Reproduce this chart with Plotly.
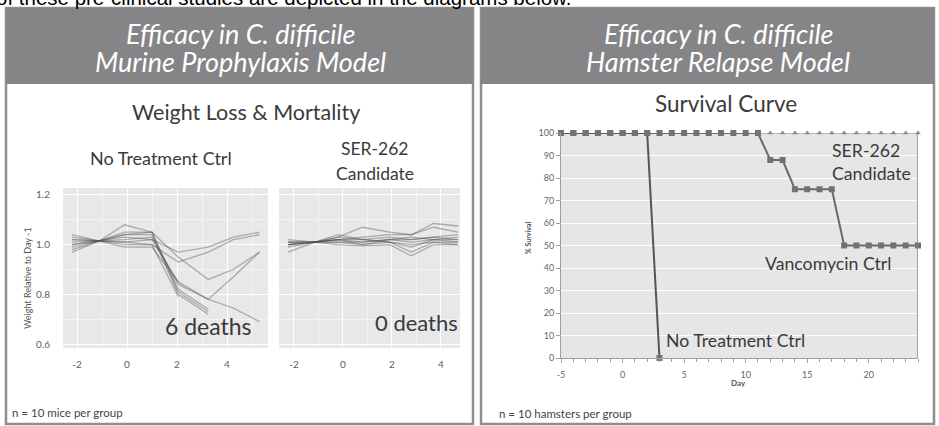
import plotly.graph_objects as go

W, H = 939, 426
def X(px): return px / W
def Y(py): return 1 - py / H

# ---------------- data ----------------
intro_text = "of these pre-clinical studies are depicted in the diagrams below."

# Weight loss (relative to day -1), 10 mice per group
ctrl_days = [-2.2, -1.1, -0.1, 1.0, 2.05, 3.25, 4.25, 5.3]
ctrl_weights = [
    [1.00, 1.015, 1.03, 1.02, 0.97, 0.99, 1.03, 1.05],
    [1.03, 1.015, 1.01, 1.00, 0.93, 0.97, 1.02, 1.04],
    [1.02, 1.015, 1.04, 1.05, 0.95, 0.86, 0.90, 0.97],
    [0.98, 1.015, 1.02, 1.03, 0.84, 0.78, 0.87, 0.97],
    [1.01, 1.015, 1.01, 1.02, 0.85, 0.78, 0.745, 0.69],
    [0.99, 1.015, 1.05, 1.05, 0.81, 0.73, None, None],
    [1.00, 1.015, 1.04, 1.04, 0.80, 0.72, None, None],
    [1.02, 1.015, 1.08, 1.05, 0.82, 0.74, None, None],
    [0.97, 1.015, 1.00, 1.00, 0.79, None, None, None],
    [1.04, 1.015, 0.99, 0.99, 0.85, None, None, None],
]
ser_days = [-2.24, -1.14, -0.2, 0.8, 1.9, 2.8, 3.7, 4.7]
ser_weights = [
    [1.00, 1.01, 1.03, 1.07, 1.05, 1.04, 1.085, 1.075],
    [1.01, 1.01, 1.02, 1.03, 1.04, 1.04, 1.07, 1.05],
    [0.97, 1.01, 1.04, 1.02, 1.03, 1.02, 1.03, 1.04],
    [1.00, 1.01, 1.02, 1.01, 1.02, 1.03, 1.02, 1.03],
    [1.01, 1.01, 1.01, 1.00, 1.02, 1.02, 1.03, 1.02],
    [1.00, 1.01, 1.02, 1.00, 1.01, 0.99, 1.02, 1.01],
    [1.01, 1.01, 1.00, 0.995, 1.00, 0.955, 1.00, 1.00],
    [1.00, 1.01, 1.03, 1.02, 1.01, 0.97, 1.01, 1.01],
    [1.02, 1.01, 1.01, 1.01, 1.02, 1.01, 1.02, 1.02],
    [0.99, 1.01, 1.02, 1.02, 1.01, 1.00, 1.01, 1.00],
]
weight_xticks = [-2, 0, 2, 4]
weight_xtick_text = ["-2", "0", "2", "4"]
weight_yticks = [0.6, 0.8, 1.0, 1.2]
weight_ytick_text = ["0.6", "0.8", "1.0", "1.2"]

# Survival (hamster relapse model)
surv_days = list(range(-5, 25))
ser_surv = [100] * 30
vanco_surv = [100] * 17 + [88, 88] + [75, 75, 75, 75] + [50] * 7
nt_days = list(range(-5, 4))
nt_surv = [100] * 8 + [0]
surv_xticks = [-5, 0, 5, 10, 15, 20]
surv_xtick_text = ["-5", "0", "5", "10", "15", "20"]
surv_yticks = list(range(0, 101, 10))

# ---------------- figure ----------------
fig = go.Figure()
line_col = "rgba(80,80,80,0.42)"
for w in ctrl_weights:
    fig.add_trace(go.Scatter(x=ctrl_days, y=w, mode="lines", line=dict(color=line_col, width=1.3),
                             xaxis="x", yaxis="y", showlegend=False, connectgaps=False))
for w in ser_weights:
    fig.add_trace(go.Scatter(x=ser_days, y=w, mode="lines", line=dict(color=line_col, width=1.3),
                             xaxis="x2", yaxis="y2", showlegend=False))

fig.add_trace(go.Scatter(x=surv_days, y=ser_surv, mode="lines+markers", name="SER-262",
                         line=dict(color="#8c8c8c", width=1),
                         marker=dict(symbol="triangle-up", size=5, color="#8c8c8c"),
                         xaxis="x3", yaxis="y3", showlegend=False, cliponaxis=False))
fig.add_trace(go.Scatter(x=surv_days, y=vanco_surv, mode="lines+markers", name="Vancomycin Ctrl",
                         line=dict(color="#6a6a6a", width=2),
                         marker=dict(symbol="square", size=6, color="#727272"),
                         xaxis="x3", yaxis="y3", showlegend=False, cliponaxis=False))
fig.add_trace(go.Scatter(x=nt_days, y=nt_surv, mode="lines+markers", name="No Treatment Ctrl",
                         line=dict(color="#555555", width=2),
                         marker=dict(symbol="square", size=6, color="#727272"),
                         xaxis="x3", yaxis="y3", showlegend=False, cliponaxis=False))

# intro sentence (cut off by the top of the page, as in the source)
fig.add_trace(go.Scatter(x=[-4], y=[-0.4], mode="text", text=[intro_text], textposition="middle right",
                         textfont=dict(family="Liberation Sans, Arial", size=20.5, color="black"),
                         xaxis="x4", yaxis="y4", showlegend=False, hoverinfo="skip", cliponaxis=True))

tickfont = dict(family="Lato", size=10, color="#606060")
grid_w = dict(showgrid=True, gridcolor="white", gridwidth=1.2, zeroline=False, showline=False,
              automargin=False)
minor_x = dict(showgrid=True, gridcolor="#f3f3f3", gridwidth=0.8)
surv_tickfont = dict(family="Lato", size=9, color="#666")

layout = dict(
    template="none",
    width=W, height=H, margin=dict(l=0, r=0, t=0, b=0, autoexpand=False),
    paper_bgcolor="white", plot_bgcolor="rgba(0,0,0,0)", showlegend=False,
    xaxis=dict(domain=[X(63), X(268)], range=[-2.56, 5.64], tickvals=weight_xticks,
               ticktext=weight_xtick_text, tickfont=tickfont, anchor="y", ticks="", ticklabelstandoff=9,
               minor=dict(tickvals=[-1, 1, 3, 5], **minor_x), **grid_w),
    yaxis=dict(domain=[Y(348), Y(188)], range=[0.584, 1.228], tickvals=weight_yticks,
               ticktext=weight_ytick_text, tickfont=tickfont, anchor="x", ticks="",
               ticklabelstandoff=12, minor=dict(tickvals=[0.7, 0.9, 1.1], **minor_x), **grid_w),
    xaxis2=dict(domain=[X(279), X(460)], range=[-2.61, 4.78], tickvals=weight_xticks,
                ticktext=weight_xtick_text, tickfont=tickfont, anchor="y2", ticks="", ticklabelstandoff=9,
                minor=dict(tickvals=[-1, 1, 3], **minor_x), **grid_w),
    yaxis2=dict(domain=[Y(348), Y(188)], range=[0.584, 1.228], tickvals=weight_yticks,
                showticklabels=False, anchor="x2", ticks="",
                minor=dict(tickvals=[0.7, 0.9, 1.1], **minor_x), **grid_w),
    xaxis3=dict(domain=[X(561), X(918)], range=[-5, 24], tickvals=surv_xticks, ticktext=surv_xtick_text,
                anchor="y3", tickfont=surv_tickfont, showgrid=False,
                zeroline=False, automargin=False,
                showline=True, linecolor="#a0a0a0", linewidth=1, ticks="outside", ticklen=4,
                tickcolor="#a0a0a0", ticklabelstandoff=4,
                minor=dict(dtick=1, ticks="outside", ticklen=3, tickcolor="#a0a0a0")),
    yaxis3=dict(domain=[Y(358), Y(133)], range=[0, 100], tickvals=surv_yticks, anchor="x3",
                tickfont=surv_tickfont, showgrid=True, gridcolor="white",
                gridwidth=1.2, zeroline=False, showline=True, linecolor="#a0a0a0", linewidth=1,
                ticks="outside", ticklen=4, tickcolor="#a0a0a0", automargin=False),
    xaxis4=dict(domain=[0, 1], range=[0, W], visible=False, anchor="y4", automargin=False),
    yaxis4=dict(domain=[Y(9), 1], range=[9, 0], visible=False, anchor="x4", automargin=False),
)
fig.update_layout(**layout)

shapes = []
header_col = "#858587"
border_col = "#8e8e8e"
for (x0, x1) in [(6, 473), (481, 934)]:
    shapes.append(dict(type="rect", xref="paper", yref="paper", x0=X(x0), x1=X(x1), y0=Y(424), y1=Y(8),
                       line=dict(color=border_col, width=2.5), fillcolor="white", layer="below"))
    shapes.append(dict(type="rect", xref="paper", yref="paper", x0=X(x0), x1=X(x1), y0=Y(84), y1=Y(8),
                       line=dict(width=0), fillcolor=header_col, layer="below"))
# plot-area backgrounds (below gridlines)
for (xr, yr, col) in [("x", "y", "#e8e8e8"), ("x2", "y2", "#e8e8e8"), ("x3", "y3", "#e6e6e6")]:
    shapes.append(dict(type="rect", xref=xr + " domain", yref=yr + " domain", x0=0, x1=1, y0=0, y1=1,
                       line=dict(width=0), fillcolor=col, layer="below"))
# right border of survival plot area
shapes.append(dict(type="line", xref="x3", yref="y3", x0=24, x1=24, y0=0, y1=100,
                   line=dict(color="#8a8a8a", width=1.5)))
fig.update_layout(shapes=shapes)

ann = []
def txt(text, px, py, size, color="#3a3a3a", family="Lato", xanchor="center", yanchor="middle", **kw):
    ann.append(dict(text=text, x=X(px), y=Y(py), xref="paper", yref="paper", showarrow=False,
                    xanchor=xanchor, yanchor=yanchor, font=dict(family=family, size=size, color=color), **kw))

hdr = dict(color="white")
txt("<i>Efficacy in C. difficile</i>", 240, 33, 27, **hdr)
txt("<i>Murine Prophylaxis Model</i>", 240, 62, 27, **hdr)
txt("<i>Efficacy in C. difficile</i>", 718, 33, 27, **hdr)
txt("<i>Hamster Relapse Model</i>", 718, 62, 27, **hdr)
txt("Weight Loss & Mortality", 246, 112, 21.5)
txt("No Treatment Ctrl", 161, 158, 18)
txt("SER-262", 375, 148, 17.5)
txt("Candidate", 375, 173, 17.5)
txt("6 deaths", 208, 326, 23)
txt("0 deaths", 416, 322, 22)
txt("Weight Relative to Day -1", 27, 278, 9, color="#555", textangle=-90)
txt("n = 10 mice per group", 10, 412, 11.5, color="#444", xanchor="left")
txt("Survival Curve", 726, 103, 22.5)
txt("<b>% Survival</b>", 528, 238, 7, color="#555", textangle=-90)
txt("<b>Day</b>", 738, 383, 8, color="#555")
txt("SER-262", 830, 150, 17.7, xanchor="left")
txt("Candidate", 830, 173, 17.7, xanchor="left")
txt("Vancomycin Ctrl", 763, 263, 17.7, xanchor="left")
txt("No Treatment Ctrl", 664, 340, 17.7, xanchor="left")
txt("n = 10 hamsters per group", 497, 413, 11.5, color="#444", xanchor="left")
fig.update_layout(annotations=ann)

fig.write_html("out.html", config={"displayModeBar": False},
               post_script="document.body.style.margin='0';document.body.style.overflow='hidden';")
